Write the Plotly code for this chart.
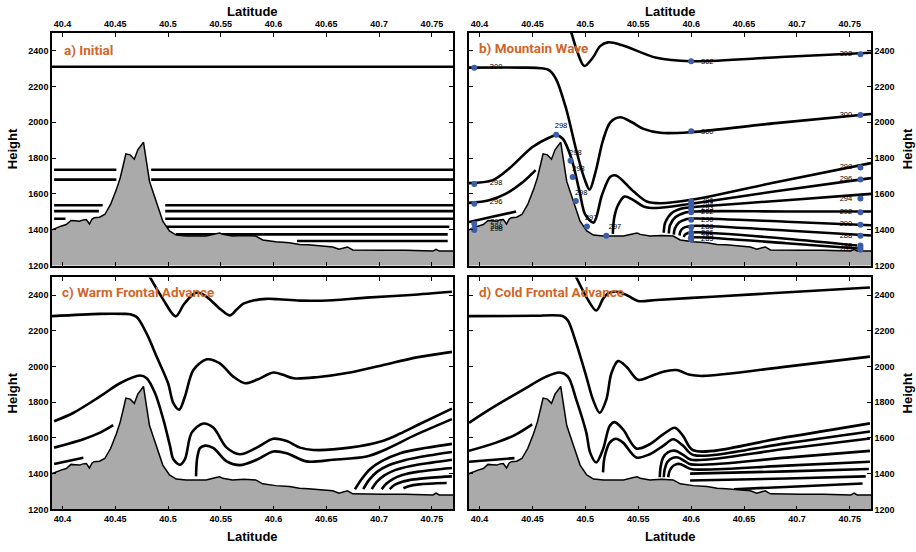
import plotly.graph_objects as go

# ---------------- axes ----------------
lat_ticks = [40.4, 40.45, 40.5, 40.55, 40.6, 40.65, 40.7, 40.75]
lat_tick_text = ["40.4", "40.45", "40.5", "40.55", "40.6", "40.65", "40.7", "40.75"]
height_ticks = [1200, 1400, 1600, 1800, 2000, 2200, 2400]
panel_titles = ["a) Initial", "b) Mountain Wave", "c) Warm Frontal Advance", "d) Cold Frontal Advance"]

# ---------------- terrain profile ----------------
terrain_lat = [40.389, 40.3935, 40.3985, 40.4035, 40.408, 40.412, 40.416, 40.4195, 40.4225,
               40.4255, 40.428, 40.430, 40.435, 40.440, 40.4455, 40.451, 40.4546, 40.4575,
               40.460, 40.4641, 40.468, 40.4713, 40.4745, 40.4767, 40.479, 40.4824, 40.4855,
               40.490, 40.495, 40.5013, 40.5077, 40.5171, 40.527, 40.536, 40.5455, 40.549,
               40.5518, 40.561, 40.572, 40.583, 40.5897, 40.602, 40.615, 40.6245, 40.633,
               40.643, 40.656, 40.662, 40.667, 40.670, 40.675, 40.690, 40.7032, 40.725,
               40.751, 40.754, 40.757, 40.77]
terrain_h = [1398, 1410, 1420, 1429, 1452, 1450, 1448, 1455, 1457,
             1432, 1460, 1467, 1470, 1485, 1541, 1624, 1689, 1760,
             1824, 1818, 1794, 1846, 1874, 1889, 1800, 1670, 1615,
             1532, 1448, 1393, 1370, 1365, 1366, 1365, 1378, 1382,
             1374, 1365, 1368, 1365, 1343, 1333, 1328, 1318, 1316,
             1309, 1304, 1291, 1298, 1304, 1287, 1288, 1285, 1285,
             1281, 1291, 1281, 1281]

# ---------------- a) initial isentropes (flat levels) ----------------
initial_h = [2310, 1735, 1735, 1680, 1680, 1537, 1537, 1504, 1504, 1461, 1461, 1417, 1374, 1337]
initial_lat0 = [40.39, 40.392, 40.484, 40.392, 40.484, 40.392, 40.4973, 40.392, 40.4973,
                40.392, 40.4973, 40.4973, 40.5073, 40.6222]
initial_lat1 = [40.77, 40.451, 40.77, 40.451, 40.77, 40.438, 40.77, 40.4344, 40.77,
                40.4028, 40.77, 40.7665, 40.765, 40.765]

# ---------------- b) mountain wave ----------------
b_302 = [(40.4850, 2520), (40.4867, 2500), (40.492, 2400), (40.499, 2314), (40.507, 2360),
         (40.514, 2425), (40.5214, 2446), (40.535, 2430), (40.5672, 2360), (40.600, 2341),
         (40.685, 2364), (40.770, 2388)]
b_300 = [(40.39, 2305), (40.44, 2305), (40.458, 2302), (40.466, 2290), (40.4724, 2240),
         (40.4819, 2074), (40.491, 1853), (40.499, 1687), (40.504, 1624), (40.5095, 1720),
         (40.5167, 1900), (40.5236, 2000), (40.533, 2028), (40.544, 2000), (40.555, 1963),
         (40.571, 1941), (40.600, 1945), (40.680, 1995), (40.770, 2046)]
b_298 = [(40.39, 1660), (40.4125, 1677), (40.428, 1742), (40.450, 1862), (40.466, 1915),
         (40.4724, 1928), (40.4787, 1908), (40.4867, 1800), (40.4945, 1613), (40.4999, 1484),
         (40.5078, 1440), (40.5157, 1594), (40.5236, 1696), (40.529, 1703), (40.5457, 1613),
         (40.558, 1558), (40.571, 1548), (40.600, 1567), (40.680, 1665), (40.770, 1772)]
b_296_west = [(40.39, 1550), (40.409, 1565), (40.425, 1602), (40.441, 1667), (40.453, 1733)]
b_294_west = [(40.39, 1443), (40.412, 1472), (40.4345, 1502)]
b_296 = [(40.526, 1377), (40.5265, 1430), (40.5277, 1480), (40.531, 1539), (40.537, 1585),
         (40.545, 1567), (40.555, 1530), (40.567, 1521), (40.600, 1545), (40.680, 1615),
         (40.770, 1688)]
b_294 = [(40.5741, 1383), (40.5755, 1440), (40.582, 1495), (40.592, 1520), (40.605, 1528),
         (40.690, 1565), (40.770, 1600)]
b_292 = [(40.5789, 1379), (40.580, 1425), (40.585, 1470), (40.594, 1495), (40.605, 1502),
         (40.690, 1502), (40.770, 1502)]
b_290 = [(40.5836, 1373), (40.5845, 1405), (40.5885, 1440), (40.596, 1460), (40.605, 1463),
         (40.690, 1445), (40.770, 1425)]
b_288 = [(40.589, 1368), (40.5898, 1390), (40.5925, 1410), (40.598, 1420), (40.605, 1422),
         (40.690, 1396), (40.770, 1368)]
b_286 = [(40.5931, 1359), (40.594, 1372), (40.597, 1382), (40.605, 1386), (40.690, 1350),
         (40.757, 1312)]
b_285 = [(40.5978, 1349), (40.5985, 1355), (40.605, 1358), (40.690, 1325), (40.758, 1295)]

b_dot_lat = [40.395, 40.395, 40.395, 40.395, 40.395, 40.395,
             40.4724, 40.486, 40.488, 40.491, 40.5015, 40.5198,
             40.600, 40.600, 40.600, 40.600, 40.600, 40.600, 40.600, 40.600, 40.600, 40.600, 40.600,
             40.760, 40.760, 40.760, 40.760, 40.760, 40.760, 40.760, 40.760, 40.760, 40.760, 40.760]
b_dot_h = [2305, 1655, 1545, 1434, 1405, 1398,
           1930, 1785, 1695, 1560, 1418, 1366,
           2341, 1950, 1558, 1539, 1517, 1497, 1456, 1414, 1383, 1360, 1345,
           2380, 2040, 1748, 1680, 1575, 1497, 1428, 1366, 1312, 1300, 1288]

b_label_text = ["300", "298", "296", "297", "298", "298",
                "298", "298", "298", "298", "297", "297",
                "302", "300", "296", "294", "293", "292", "290", "288", "286", "285", "285",
                "302", "300", "298", "296", "294", "292", "290", "288", "286", "285"]
b_label_lat = [40.4156, 40.4156, 40.4156, 40.416, 40.416, 40.416,
               40.477, 40.4905, 40.4935, 40.496, 40.5055, 40.528,
               40.6152, 40.6152, 40.6152, 40.6152, 40.6152, 40.6152, 40.6152, 40.6152, 40.6152,
               40.6152, 40.6152,
               40.7463, 40.7463, 40.7463, 40.7463, 40.7463, 40.7463, 40.7463, 40.7463, 40.7463,
               40.7463]
b_label_h = [2305, 1662, 1553, 1440, 1416, 1402,
             1978, 1829, 1738, 1604, 1464, 1414,
             2338, 1945, 1558, 1539, 1519, 1499, 1455, 1416, 1383, 1364, 1347,
             2380, 2040, 1748, 1680, 1572, 1497, 1429, 1364, 1309, 1290]

# ---------------- c) warm frontal advance ----------------
c_top = [(40.481, 2520), (40.4829, 2500), (40.495, 2380), (40.5072, 2282), (40.515, 2350),
         (40.524, 2407), (40.5286, 2416), (40.537, 2390), (40.550, 2320), (40.5587, 2287),
         (40.565, 2320), (40.571, 2352), (40.580, 2370), (40.593, 2380), (40.605, 2378),
         (40.625, 2370), (40.656, 2372), (40.688, 2387), (40.730, 2402), (40.769, 2420)]
c_upper = [(40.39, 2283), (40.4355, 2296), (40.458, 2296), (40.464, 2294), (40.4703, 2278),
           (40.4797, 2185), (40.4892, 2056), (40.500, 1907), (40.505, 1796), (40.5106, 1759),
           (40.516, 1833), (40.524, 1981), (40.5366, 2041), (40.549, 2019), (40.5618, 1944),
           (40.5729, 1907), (40.584, 1926), (40.5997, 1967), (40.609, 1954), (40.619, 1935),
           (40.641, 1941), (40.6724, 1967), (40.704, 2009), (40.7356, 2052), (40.769, 2083)]
c_middle = [(40.392, 1694), (40.410, 1740), (40.4355, 1833), (40.4544, 1907), (40.4734, 1950),
            (40.4797, 1935), (40.4876, 1852), (40.4955, 1704), (40.5018, 1556), (40.505, 1481),
            (40.5114, 1450), (40.516, 1481), (40.5224, 1630), (40.5334, 1681), (40.543, 1657),
            (40.5555, 1546), (40.568, 1509), (40.584, 1546), (40.5997, 1596), (40.6124, 1583),
            (40.625, 1546), (40.6376, 1533), (40.672, 1546), (40.704, 1585), (40.720, 1625),
            (40.7355, 1670), (40.769, 1765)]
c_west1 = [(40.392, 1546), (40.4197, 1593), (40.4355, 1630), (40.448, 1672)]
c_west2 = [(40.392, 1454), (40.4197, 1489)]
c_lower = [(40.5265, 1385), (40.5272, 1470), (40.5285, 1515), (40.5302, 1543), (40.535, 1557),
           (40.543, 1543), (40.5555, 1469), (40.568, 1448), (40.584, 1478), (40.5997, 1524),
           (40.6124, 1515), (40.631, 1469), (40.6566, 1478), (40.688, 1496), (40.704, 1530),
           (40.7355, 1620), (40.769, 1706)]
c_arc1 = [(40.6771, 1313), (40.6835, 1370), (40.6913, 1425), (40.7024, 1470), (40.720, 1515),
          (40.745, 1545), (40.769, 1567)]
c_arc2 = [(40.685, 1313), (40.6905, 1365), (40.698, 1410), (40.709, 1447), (40.725, 1477),
          (40.747, 1502), (40.769, 1522)]
c_arc3 = [(40.693, 1313), (40.698, 1355), (40.705, 1390), (40.715, 1420), (40.730, 1443),
          (40.750, 1462), (40.769, 1478)]
c_arc4 = [(40.7024, 1313), (40.707, 1345), (40.713, 1370), (40.722, 1392), (40.736, 1410),
          (40.769, 1432)]
c_arc5 = [(40.710, 1313), (40.715, 1338), (40.722, 1355), (40.733, 1368), (40.750, 1378),
          (40.769, 1385)]
c_arc6 = [(40.723, 1318), (40.728, 1330), (40.738, 1340), (40.764, 1348)]

# ---------------- d) cold frontal advance ----------------
d_top = [(40.4895, 2520), (40.4914, 2500), (40.501, 2390), (40.5103, 2315), (40.5167, 2380),
         (40.5214, 2411), (40.5293, 2420), (40.5388, 2402), (40.5499, 2368), (40.5672, 2374),
         (40.620, 2392), (40.700, 2420), (40.769, 2444)]
d_upper = [(40.39, 2283), (40.45, 2285), (40.4788, 2283), (40.4835, 2259), (40.4914, 2130),
           (40.5009, 1944), (40.5072, 1815), (40.5135, 1741), (40.5198, 1815), (40.5246, 1963),
           (40.5309, 2031), (40.5388, 2000), (40.5499, 1926), (40.5608, 1944), (40.5735, 1972),
           (40.5862, 1981), (40.5988, 1954), (40.6115, 1948), (40.690, 2000), (40.769, 2056)]
d_middle = [(40.39, 1685), (40.4092, 1759), (40.4409, 1870), (40.463, 1944), (40.4756, 1967),
            (40.4835, 1944), (40.4914, 1815), (40.5009, 1630), (40.5045, 1518), (40.5103, 1463),
            (40.5167, 1537), (40.523, 1667), (40.5277, 1689), (40.5356, 1648), (40.5482, 1541),
            (40.5609, 1565), (40.5735, 1620), (40.5846, 1657), (40.5925, 1611), (40.602, 1531),
            (40.690, 1605), (40.769, 1682)]
d_west1 = [(40.39, 1528), (40.4156, 1574), (40.4345, 1620), (40.4497, 1676)]
d_west2 = [(40.39, 1467), (40.433, 1487)]
d_lower = [(40.5167, 1407), (40.5175, 1470), (40.5192, 1518), (40.523, 1574), (40.5287, 1596),
           (40.5356, 1574), (40.5482, 1491), (40.5609, 1509), (40.5735, 1556), (40.583, 1593),
           (40.5925, 1556), (40.602, 1505), (40.690, 1570), (40.769, 1636)]
d_arc1 = [(40.5703, 1380), (40.5712, 1440), (40.5735, 1490), (40.578, 1520), (40.5855, 1528),
          (40.5925, 1505), (40.600, 1478), (40.690, 1540), (40.769, 1597)]
d_arc2 = [(40.5741, 1380), (40.575, 1425), (40.5775, 1465), (40.582, 1487), (40.5875, 1491),
          (40.5935, 1472), (40.600, 1452), (40.690, 1490), (40.769, 1528)]
d_arc3 = [(40.5783, 1380), (40.5793, 1410), (40.582, 1438), (40.5855, 1452), (40.5895, 1454),
          (40.5945, 1440), (40.601, 1425), (40.690, 1445), (40.769, 1467)]
d_flat1 = [(40.599, 1400), (40.690, 1413), (40.768, 1426)]
d_flat2 = [(40.599, 1362), (40.690, 1373), (40.765, 1385)]
d_flat3 = [(40.6405, 1313), (40.700, 1328), (40.762, 1345)]

# ---------------- figure ----------------
W, H = 916, 552
AX = {"a": ("x", "y"), "b": ("x2", "y2"), "c": ("x3", "y3"), "d": ("x4", "y4")}
LINE_COLOR = "black"
TERRAIN_FILL = "#a9aaa9"
DOT_COLOR = "#3c5ea8"
TITLE_COLOR = "#d0662b"
TICK_FONT = dict(family="Liberation Sans, Arial, Helvetica, sans-serif", size=9, color="black")
TITLE_FONT = "Roboto, Liberation Sans, Arial, sans-serif"

fig = go.Figure()


def add_curve(pts, panel, shape="spline"):
    xa, ya = AX[panel]
    fig.add_trace(go.Scatter(
        x=[p[0] for p in pts], y=[p[1] for p in pts], mode="lines",
        line=dict(color=LINE_COLOR, width=2.6, shape=shape, smoothing=0.9),
        xaxis=xa, yaxis=ya, hoverinfo="skip", showlegend=False))


def add_terrain(panel):
    xa, ya = AX[panel]
    fig.add_trace(go.Scatter(
        x=terrain_lat, y=terrain_h, mode="lines", fill="tozeroy", fillcolor=TERRAIN_FILL,
        line=dict(color="black", width=1.5), xaxis=xa, yaxis=ya,
        hoverinfo="skip", showlegend=False))


# a) flat isentropes
for h, l0, l1 in zip(initial_h, initial_lat0, initial_lat1):
    add_curve([(l0, h), (l1, h)], "a", shape="linear")
add_terrain("a")

# b) mountain wave
for curve in [b_302, b_300, b_298, b_296_west, b_294_west, b_296, b_294, b_292, b_290,
              b_288, b_286, b_285]:
    add_curve(curve, "b")
add_terrain("b")
fig.add_trace(go.Scatter(x=b_dot_lat, y=b_dot_h, mode="markers",
                         marker=dict(color=DOT_COLOR, size=6), xaxis="x2", yaxis="y2",
                         hoverinfo="skip", showlegend=False))
fig.add_trace(go.Scatter(x=b_label_lat, y=b_label_h, mode="text", text=b_label_text,
                         textposition="middle center",
                         textfont=dict(family="Liberation Sans, Arial, sans-serif", size=7.5,
                                       color="black"),
                         xaxis="x2", yaxis="y2", hoverinfo="skip", showlegend=False))

# c) warm frontal advance
for curve in [c_top, c_upper, c_middle, c_west1, c_west2, c_lower,
              c_arc1, c_arc2, c_arc3, c_arc4, c_arc5, c_arc6]:
    add_curve(curve, "c")
add_terrain("c")

# d) cold frontal advance
for curve in [d_top, d_upper, d_middle, d_west1, d_west2, d_lower,
              d_arc1, d_arc2, d_arc3, d_flat1, d_flat2, d_flat3]:
    add_curve(curve, "d")
add_terrain("d")

# axis geometry (pixels -> paper fractions, no margins)
x_left = [52 / W, 453 / W]
x_right = [469 / W, 871 / W]
y_top = [1 - 268 / H, 1 - 33 / H]
y_bottom = [1 - 514 / H, 1 - 280 / H]


def x_axis(domain, side, anchor):
    return dict(domain=domain, range=[40.39, 40.77], side=side, anchor=anchor,
                tickmode="array", tickvals=lat_ticks, ticktext=lat_tick_text,
                ticks="inside", ticklen=4, tickwidth=1.3, tickcolor="black",
                showline=True, linecolor="black", linewidth=1.6, mirror="ticks",
                showgrid=False, zeroline=False,
                tickfont=dict(**TICK_FONT, weight="bold"))


def y_axis(domain, side, anchor):
    return dict(domain=domain, range=[1200, 2500], side=side, anchor=anchor,
                tickmode="array", tickvals=height_ticks,
                ticks="inside", ticklen=4, tickwidth=1.3, tickcolor="black",
                showline=True, linecolor="black", linewidth=1.6, mirror="ticks",
                showgrid=False, zeroline=False,
                tickfont=dict(**TICK_FONT, weight="bold"))


fig.update_layout(
    width=W, height=H, margin=dict(l=0, r=0, t=0, b=0),
    paper_bgcolor="white", plot_bgcolor="white", showlegend=False,
    xaxis=x_axis(x_left, "top", "y"), yaxis=y_axis(y_top, "left", "x"),
    xaxis2=x_axis(x_right, "top", "y2"), yaxis2=y_axis(y_top, "right", "x2"),
    xaxis3=x_axis(x_left, "bottom", "y3"), yaxis3=y_axis(y_bottom, "left", "x3"),
    xaxis4=x_axis(x_right, "bottom", "y4"), yaxis4=y_axis(y_bottom, "right", "x4"),
)

annotations = []
# panel titles
for title, (xa, ya), lat, h in zip(panel_titles, AX.values(),
                                   [40.3992, 40.3973, 40.3976, 40.3973],
                                   [2406, 2415, 2417, 2417]):
    annotations.append(dict(text=f"<b>{title}</b>", x=lat, y=h, xref=xa, yref=ya,
                            xanchor="left", yanchor="middle", showarrow=False,
                            font=dict(family=TITLE_FONT, size=13.5, color=TITLE_COLOR)))

# axis titles
axis_title_font = dict(family="Liberation Sans, Arial, Helvetica, sans-serif", size=13,
                       color="black")
for xc in [(52 + 453) / 2 / W, (469 + 871) / 2 / W]:
    annotations.append(dict(text="<b>Latitude</b>", x=xc, y=1 - 12 / H, xref="paper",
                            yref="paper", showarrow=False, xanchor="center",
                            yanchor="middle", font=axis_title_font))
    annotations.append(dict(text="<b>Latitude</b>", x=xc, y=1 - 541 / H, xref="paper",
                            yref="paper", showarrow=False, xanchor="center",
                            yanchor="middle", font=axis_title_font))
for xc in [12 / W, 907 / W]:
    for yc in [1 - 150.5 / H, 1 - 397 / H]:
        annotations.append(dict(text="<b>Height</b>", x=xc, y=yc, xref="paper",
                                yref="paper", showarrow=False, textangle=-90,
                                xanchor="center", yanchor="middle", font=axis_title_font))

fig.update_layout(annotations=annotations)
fig.write_html("out.html")
